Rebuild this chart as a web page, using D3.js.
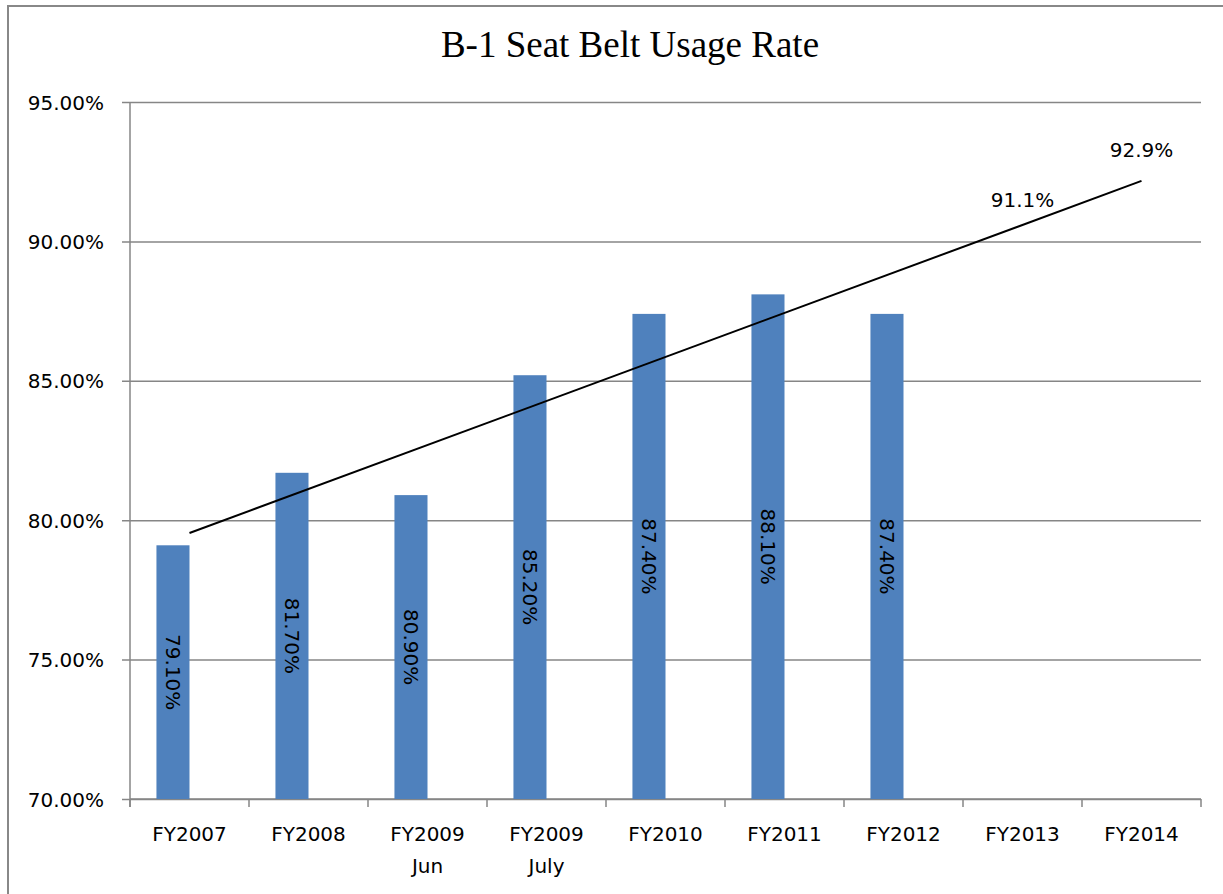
<!DOCTYPE html>
<html>
<head>
<meta charset="utf-8">
<script src="https://cdn.jsdelivr.net/npm/d3@7"></script>
<style>
  html, body { margin: 0; padding: 0; background: #fff; }
  svg { display: block; }
</style>
</head>
<body>
<svg id="chart" width="1223" height="894"></svg>
<script>
// ---- data ----
const categories = ["FY2007", "FY2008", "FY2009\nJun", "FY2009\nJuly", "FY2010", "FY2011", "FY2012", "FY2013", "FY2014"];
const usageRates = [79.1, 81.7, 80.9, 85.2, 87.4, 88.1, 87.4, null, null];
const goalLabels = [null, null, null, null, null, null, null, 91.1, 92.9];
const trendCategories = ["FY2007", "FY2014"];
const trendValues = [79.54, 92.17];
const yTicks = [70, 75, 80, 85, 90, 95];
const title = "B-1 Seat Belt Usage Rate";

// ---- layout ----
const svg = d3.select("#chart");
const W = 1223, H = 894;
const plot = { left: 130, right: 1201, top: 102, bottom: 799 };
const labelFont = "'DejaVu Sans', sans-serif";

// outer border
svg.append("rect")
  .attr("x", 8).attr("y", 6)
  .attr("width", W + 10).attr("height", H + 10)
  .attr("fill", "none").attr("stroke", "#888").attr("stroke-width", 2);

// title
svg.append("text")
  .attr("x", 630).attr("y", 57)
  .attr("text-anchor", "middle")
  .attr("font-family", "'Liberation Serif', 'Times New Roman', serif")
  .attr("font-size", 37)
  .attr("fill", "#000")
  .text(title);

const x = d3.scaleBand().domain(categories).range([plot.left, plot.right]).paddingInner(0).paddingOuter(0);
const xs = d3.scaleBand().domain(["actual", "goal"]).range([0, x.bandwidth()]).paddingInner(0).paddingOuter(0.8);
const y = d3.scaleLinear().domain([70, 95]).range([plot.bottom, plot.top]);

// gridlines + y axis
const yAxis = d3.axisLeft(y).tickValues(yTicks)
  .tickSize(-(plot.right - plot.left))
  .tickFormat(d => d.toFixed(2) + "%");
const gy = svg.append("g").attr("transform", `translate(${plot.left},0)`).call(yAxis);
gy.select(".domain").remove();
gy.selectAll(".tick line").attr("stroke", "#868686").attr("stroke-width", 1.5).attr("x1", -8);
gy.selectAll(".tick text")
  .attr("x", -26)
  .attr("dy", "0.35em")
  .attr("font-family", labelFont)
  .attr("font-size", 20)
  .attr("fill", "#000");

// y axis line
svg.append("line")
  .attr("x1", plot.left).attr("x2", plot.left)
  .attr("y1", plot.top).attr("y2", plot.bottom + 8)
  .attr("stroke", "#868686").attr("stroke-width", 1.5);

// x axis
const gx = svg.append("g").attr("transform", `translate(0,${plot.bottom})`);
gx.append("line")
  .attr("x1", plot.left).attr("x2", plot.right)
  .attr("stroke", "#868686").attr("stroke-width", 1.5);
const boundaries = categories.map(c => x(c)).concat([x(categories[categories.length - 1]) + x.bandwidth()]);
gx.selectAll("line.tk").data(boundaries).enter().append("line")
  .attr("class", "tk")
  .attr("x1", d => d).attr("x2", d => d)
  .attr("y1", 0).attr("y2", 8)
  .attr("stroke", "#868686").attr("stroke-width", 1.5);
const xl = gx.selectAll("text.xl").data(categories).enter().append("text")
  .attr("class", "xl")
  .attr("x", d => x(d) + x.bandwidth() / 2)
  .attr("y", 42)
  .attr("text-anchor", "middle")
  .attr("font-family", labelFont)
  .attr("font-size", 20)
  .attr("fill", "#000");
xl.each(function(d) {
  const lines = d.split("\n");
  const t = d3.select(this);
  lines.forEach((ln, i) => {
    t.append("tspan")
      .attr("x", x(d) + x.bandwidth() / 2)
      .attr("dy", i === 0 ? 0 : 32)
      .text(ln);
  });
});

// bars
const barData = categories.map((c, i) => ({ c, v: usageRates[i] })).filter(d => d.v != null);
svg.append("g").selectAll("rect").data(barData).enter().append("rect")
  .attr("x", d => x(d.c) + xs("actual"))
  .attr("y", d => y(d.v))
  .attr("width", xs.bandwidth())
  .attr("height", d => y(70) - y(d.v))
  .attr("fill", "#4F81BD");

// bar labels (rotated, centered)
svg.append("g").selectAll("text").data(barData).enter().append("text")
  .attr("transform", d => {
    const cx = x(d.c) + xs("actual") + xs.bandwidth() / 2;
    const cy = (y(d.v) + y(70)) / 2;
    return `translate(${cx},${cy}) rotate(90)`;
  })
  .attr("text-anchor", "middle")
  .attr("dy", "0.35em")
  .attr("font-family", labelFont)
  .attr("font-size", 20)
  .attr("fill", "#000")
  .text(d => d.v.toFixed(2) + "%");

// trend line
const trendPts = trendCategories.map((c, i) => [x(c) + x.bandwidth() / 2, y(trendValues[i])]);
svg.append("path")
  .attr("d", d3.line()(trendPts))
  .attr("fill", "none")
  .attr("stroke", "#000")
  .attr("stroke-width", 2);

// goal labels
const goalData = categories.map((c, i) => ({ c, v: goalLabels[i] })).filter(d => d.v != null);
svg.append("g").selectAll("text").data(goalData).enter().append("text")
  .attr("x", d => x(d.c) + x.bandwidth() / 2)
  .attr("y", d => y(d.v) - 4)
  .attr("text-anchor", "middle")
  .attr("font-family", labelFont)
  .attr("font-size", 20)
  .attr("fill", "#000")
  .text(d => d.v.toFixed(1) + "%");
</script>
</body>
</html>
